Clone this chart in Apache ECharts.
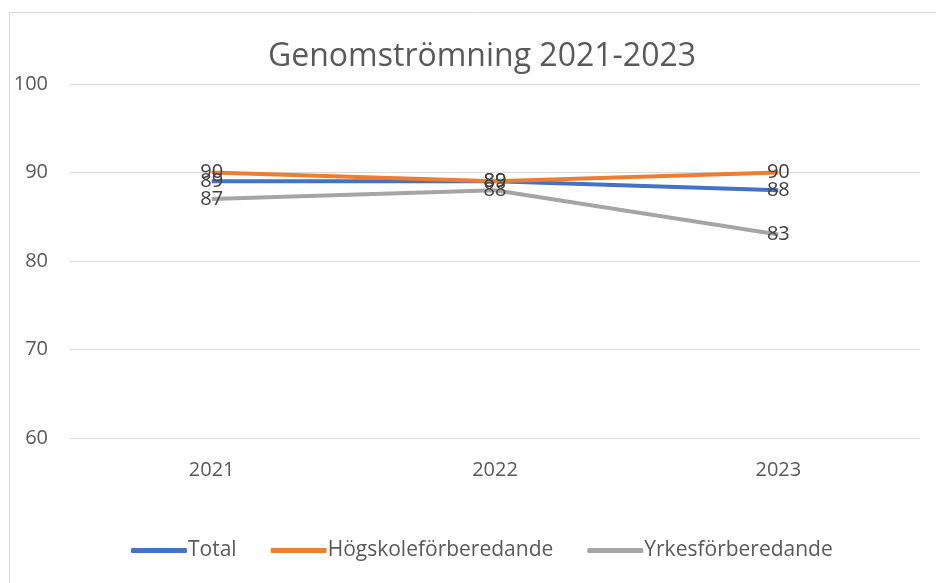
<!DOCTYPE html>
<html>
<head>
<meta charset="utf-8">
<script src="https://cdn.jsdelivr.net/npm/echarts@6/dist/echarts.min.js"></script>
<style>
  html, body { margin: 0; padding: 0; background: #fff; }
  #chart { width: 936px; height: 583px; }
</style>
</head>
<body>
<div id="chart"></div>
<script>
const years = ['2021', '2022', '2023']
const total = [89, 89, 88]
const hogskole = [90, 89, 90]
const yrkes = [87, 88, 83]
const yTicks = [60, 70, 80, 90, 100]

const font = 'Open Sans'
const textColor = '#595959'

function lineSeries (name, data, color) {
  return {
    name: name,
    type: 'line',
    data: data,
    symbol: 'circle',
    symbolSize: 0,
    showSymbol: true,
    lineStyle: { width: 4, color: color },
    itemStyle: { color: color },
    label: {
      show: true,
      position: 'inside',
      color: '#404040',
      fontFamily: font,
      fontSize: 20
    }
  }
}

let chart = echarts.init(document.getElementById('chart'))
chart.setOption({
  animation: false,
  title: {
    text: 'Genomströmning 2021-2023',
    left: 263,
    top: 36,
    textStyle: {
      fontFamily: font,
      fontWeight: 'normal',
      fontSize: 32,
      color: textColor
    }
  },
  graphic: [{
    type: 'rect',
    shape: { x: 9.5, y: 12.5, width: 1000, height: 1000 },
    style: { fill: 'none', stroke: '#d9d9d9', lineWidth: 1 },
    silent: true
  }],
  legend: {
    bottom: 17,
    left: 126,
    itemWidth: 56,
    itemHeight: 5,
    itemGap: 34,
    icon: 'roundRect',
    textStyle: { fontFamily: font, fontSize: 21, color: textColor, padding: [0, 0, 0, -4] },
    data: ['Total', 'Högskoleförberedande', 'Yrkesförberedande']
  },
  grid: {
    left: 70,
    right: 16,
    top: 84,
    bottom: 145
  },
  xAxis: {
    type: 'category',
    data: years,
    axisLine: { show: false },
    axisTick: { show: false },
    axisLabel: { color: textColor, fontFamily: font, fontSize: 20, margin: 22 }
  },
  yAxis: {
    type: 'value',
    min: yTicks[0],
    max: yTicks[yTicks.length - 1],
    interval: 10,
    axisLine: { show: false },
    axisTick: { show: false },
    axisLabel: { color: textColor, fontFamily: font, fontSize: 20, margin: 22 },
    splitLine: { lineStyle: { color: '#d9d9d9', width: 1 } }
  },
  series: [
    lineSeries('Total', total, '#4472C4'),
    lineSeries('Högskoleförberedande', hogskole, '#ED7D31'),
    lineSeries('Yrkesförberedande', yrkes, '#A5A5A5')
  ]
})
</script>
</body>
</html>
